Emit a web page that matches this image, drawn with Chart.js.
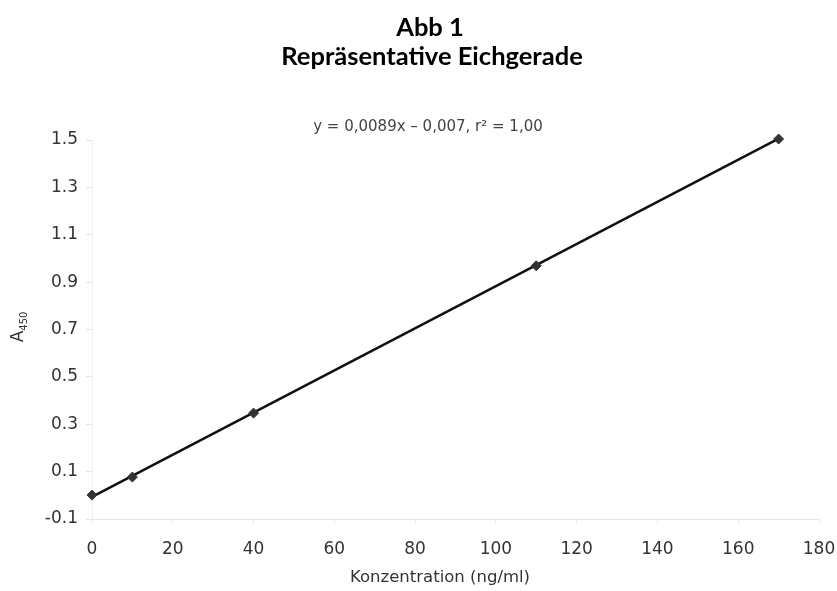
<!DOCTYPE html>
<html lang="de">
<head>
    <meta charset="UTF-8">
    <title>Abb 1 Repräsentative Eichgerade</title>
    <script src="https://cdn.jsdelivr.net/npm/chart.js"></script>
    <style>
        html, body { margin: 0; padding: 0; background: #fff; }
        #wrap { width: 837px; height: 591px; }
    </style>
</head>
<body>
    <div id="wrap">
        <canvas id="eichChart" width="837" height="591"></canvas>
    </div>

    <script>
        // Messpunkte
        const konzentration = [0, 10, 40, 110, 170];
        const absorption = [0.001, 0.077, 0.347, 0.969, 1.504];

        // Regressionsgerade (Endpunkte)
        const fitX = [0, 170];
        const fitY = [-0.007, 1.506];

        const titleLines = ['Abb 1', 'Repräsentative Eichgerade'];
        const equationText = 'y = 0,0089x \u2013 0,007, r\u00b2 = 1,00';
        const xTitle = 'Konzentration (ng/ml)';

        const pointData = konzentration.map((x, i) => ({ x: x, y: absorption[i] }));
        const lineData = fitX.map((x, i) => ({ x: x, y: fitY[i] }));

        const axisFont = 'DejaVu Sans';

        // Titel, Gleichung, Achsentitel (A450 mit Tiefstellung)
        const extraText = {
            id: 'extraText',
            afterDraw(chart) {
                const ctx = chart.ctx;
                const area = chart.chartArea;
                ctx.save();

                ctx.fillStyle = '#000';
                ctx.font = 'bold 25.5px Lato';
                ctx.textAlign = 'center';
                ctx.textBaseline = 'alphabetic';
                ctx.fillText(titleLines[0], 430, 36);
                ctx.fillText(titleLines[1], 432, 65);

                ctx.fillStyle = '#444';
                ctx.font = '15px "DejaVu Sans"';
                ctx.textBaseline = 'middle';
                ctx.fillText(equationText, 428, area.top - 13);

                ctx.fillStyle = '#333';
                ctx.font = '16.5px "DejaVu Sans"';
                ctx.fillText(xTitle, 440, 578);

                ctx.translate(19, 327);
                ctx.rotate(-Math.PI / 2);
                ctx.textAlign = 'left';
                ctx.font = '17px "DejaVu Sans"';
                const w = ctx.measureText('A').width;
                ctx.font = '10px "DejaVu Sans"';
                const w2 = ctx.measureText('450').width;
                const start = -(w + w2) / 2;
                ctx.font = '17px "DejaVu Sans"';
                ctx.fillText('A', start, 0);
                ctx.font = '10px "DejaVu Sans"';
                ctx.fillText('450', start + w, 5);
                ctx.restore();
            }
        };

        const ctx = document.getElementById('eichChart').getContext('2d');
        new Chart(ctx, {
            type: 'scatter',
            data: {
                datasets: [
                    {
                        label: 'Regression',
                        data: lineData,
                        showLine: true,
                        borderColor: '#111',
                        borderWidth: 2.5,
                        pointRadius: 0,
                        fill: false,
                        clip: false,
                        order: 2
                    },
                    {
                        label: 'Messwerte',
                        data: pointData,
                        pointStyle: 'rectRot',
                        pointRadius: 5,
                        backgroundColor: '#333',
                        borderColor: '#333',
                        borderWidth: 1,
                        clip: false,
                        order: 1
                    }
                ]
            },
            options: {
                responsive: false,
                animation: false,
                layout: {
                    padding: { left: 0, right: 18, top: 140, bottom: 0 }
                },
                scales: {
                    x: {
                        type: 'linear',
                        min: 0,
                        max: 180,
                        afterFit: scale => {
                            scale.height = 72;
                            scale.paddingLeft = 0;
                            scale.paddingRight = 0;
                        },
                        ticks: {
                            stepSize: 20,
                            color: '#333',
                            font: { family: axisFont, size: 17 },
                            padding: 16
                        },
                        grid: {
                            drawOnChartArea: false,
                            drawTicks: true,
                            tickLength: 4,
                            color: '#e6e6e6'
                        },
                        border: { display: true, color: '#e6e6e6' }
                    },
                    y: {
                        min: -0.1,
                        max: 1.5,
                        afterFit: scale => { scale.width = 92; },
                        ticks: {
                            stepSize: 0.2,
                            color: '#333',
                            font: { family: axisFont, size: 17 },
                            padding: 8,
                            callback: v => v.toFixed(1)
                        },
                        grid: {
                            drawOnChartArea: false,
                            drawTicks: true,
                            tickLength: 6,
                            color: '#e6e6e6'
                        },
                        border: { display: true, color: '#f0f0f0' }
                    }
                },
                plugins: {
                    legend: { display: false },
                    tooltip: { enabled: false },
                    title: { display: false }
                }
            },
            plugins: [extraText]
        });
    </script>
</body>
</html>
